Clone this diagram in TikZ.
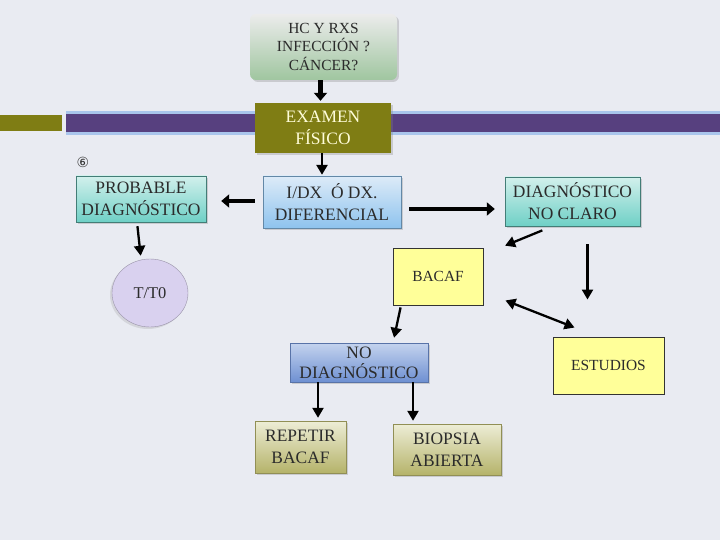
\documentclass[tikz,border=0pt]{standalone}
\usepackage{fontspec}
\setmainfont{Liberation Serif}
\newfontfamily\circfont{DejaVu Sans}
\usetikzlibrary{positioning,arrows.meta,shadows,shapes.geometric}

\definecolor{paper}{HTML}{E9EBF2}
\definecolor{bandviolet}{HTML}{57407F}
\definecolor{bandblue}{HTML}{A9C5EC}
\definecolor{olivebox}{HTML}{7F7D14}
\definecolor{tealtop}{HTML}{D2F0EC}
\definecolor{tealbot}{HTML}{6FD0C6}
\definecolor{skytop}{HTML}{DDEBF8}
\definecolor{skybot}{HTML}{8EC3EE}
\definecolor{yellowbox}{HTML}{FFFF99}
\definecolor{navytop}{HTML}{C4D3EE}
\definecolor{navybot}{HTML}{6E90D2}
\definecolor{khakitop}{HTML}{EDEDD6}
\definecolor{khakibot}{HTML}{B5B36A}
\definecolor{lilac}{HTML}{D9D1EF}
\definecolor{inktext}{HTML}{2B2B2B}

\tikzset{
  box/.style={inner sep=0pt,align=center,font=\fontsize{17.5}{22}\selectfont,text=inktext,
    drop shadow={opacity=0.3,shadow xshift=2pt,shadow yshift=-2pt}},
  tealbox/.style={box,top color=tealtop,bottom color=tealbot,draw=tealbot!60!black,line width=0.4pt},
  yelbox/.style={inner sep=0pt,align=center,font=\fontsize{15.5}{18}\selectfont,text=inktext,
    fill=yellowbox,draw=black!80,line width=0.9pt},
  fatarr/.style={line width=4.5pt,-{Triangle[length=8bp,width=13bp]}},
  arr/.style={line width=2.3pt,-{Triangle[length=10bp,width=11bp]}},
}

\begin{document}
\begin{tikzpicture}[x=1bp,y=-1bp]
\useasboundingbox[fill=paper] (0,0) rectangle (720,540);

% Title band across the slide.
\fill[bandblue] (66,111) rectangle (720,135);
\fill[bandviolet] (66,114) rectangle (720,132);
\fill[olivebox] (0,115) rectangle (62,131);

\node[font=\circfont\fontsize{14}{14}\selectfont,text=black!80] (mark) at (83,162) {⑥};

% Boxes of the flow.
\node[box,rounded corners=6pt,minimum width=147bp,minimum height=66bp,
  top color=white!85!gray,bottom color=green!25!gray!60,
  font=\fontsize{15.5}{19}\selectfont] (hc) at (323.5,47)
  {HC Y RXS\\INFECCIÓN ?\\CÁNCER?};
\node[box,minimum width=136bp,minimum height=50bp,fill=olivebox,
  text=yellow!15] (exam) at (323,128) {EXAMEN\\FÍSICO};
\node[tealbox,minimum width=130bp,minimum height=46bp] (prob) at (141,199)
  {PROBABLE\\DIAGNÓSTICO};
\node[box,minimum width=138bp,minimum height=52bp,top color=skytop,
  bottom color=skybot,draw=skybot!70!black,line width=0.4pt] (idx) at (332,202)
  {I/DX\ \ Ó DX.\\DIFERENCIAL};
\node[tealbox,minimum width=135bp,minimum height=49bp] (noclaro) at (572.5,201.5)
  {DIAGNÓSTICO\\NO CLARO};
\node[ellipse,minimum width=76bp,minimum height=68bp,inner sep=0pt,
  fill=lilac,draw=lilac!70!black,line width=0.4pt,text=inktext,
  font=\fontsize{16.5}{18}\selectfont,
  drop shadow={opacity=0.2,shadow xshift=-2pt,shadow yshift=-2pt}] (tto) at (150,293) {T/T0};
\node[yelbox,minimum width=90bp,minimum height=57bp] (bacaf) at (438,276.5) {BACAF};
\node[yelbox,minimum width=111bp,minimum height=57bp] (estudios) at (608.5,365.5) {ESTUDIOS};
\node[box,minimum width=138bp,minimum height=39bp,top color=navytop,
  bottom color=navybot,draw=navybot!80!black,line width=0.6pt,
  font=\fontsize{17.5}{20}\selectfont] (nodiag) at (359,362.5) {NO\\DIAGNÓSTICO};
\node[box,minimum width=91bp,minimum height=52bp,top color=khakitop,
  bottom color=khakibot,draw=khakibot!80!black,line width=0.4pt] (repetir) at (300.5,447)
  {REPETIR\\BACAF};
\node[box,minimum width=108bp,minimum height=51bp,top color=khakitop,
  bottom color=khakibot,draw=khakibot!80!black,line width=0.4pt] (biopsia) at (447,449.5)
  {BIOPSIA\\ABIERTA};

% Connectors.
\draw[fatarr,shorten >=2bp] ([xshift=-3bp]hc.south) -- ([xshift=-3bp]hc.south |- exam.north);
\draw[arr,line width=2.6pt,shorten >=1bp] ([xshift=-1bp]exam.south) -- ([xshift=-1bp]exam.south |- idx.north);
\draw[fatarr,line width=5pt,shorten <=8bp,shorten >=15bp] ([yshift=1bp]idx.west) -- ([yshift=1bp]idx.west -| prob.east);
\draw[fatarr,line width=5pt,shorten <=8bp,shorten >=10bp] ([yshift=-7bp]idx.east) -- ([yshift=-7bp]idx.east -| noclaro.west);
\draw[arr,shorten <=4bp,shorten >=3bp] ([xshift=-4bp]prob.south) -- ([xshift=-9bp]tto.north);
\draw[arr,shorten <=11bp,shorten >=5bp] ([xshift=-20bp]noclaro.south) -- ([xshift=17bp]bacaf.north east);
\draw[arr,shorten <=18bp,shorten >=37bp] ([xshift=15bp]noclaro.south) -- ([xshift=15bp]noclaro.south |- estudios.north);
\draw[arr,{Triangle[length=10bp,width=11bp]}-{Triangle[length=10bp,width=11bp]}]
  ([xshift=22bp,yshift=5bp]bacaf.south east) -- ([xshift=22bp,yshift=9bp]estudios.north west);
\draw[arr,shorten <=2bp,shorten >=5bp] ([xshift=-37bp]bacaf.south) -- ([xshift=34bp]nodiag.north);
\draw[arr,shorten >=3bp] ([xshift=-41bp]nodiag.south) -- ([xshift=-41bp]nodiag.south |- repetir.north);
\draw[arr,shorten >=3bp] ([xshift=54bp]nodiag.south) -- ([xshift=54bp]nodiag.south |- biopsia.north);
\end{tikzpicture}
\end{document}
